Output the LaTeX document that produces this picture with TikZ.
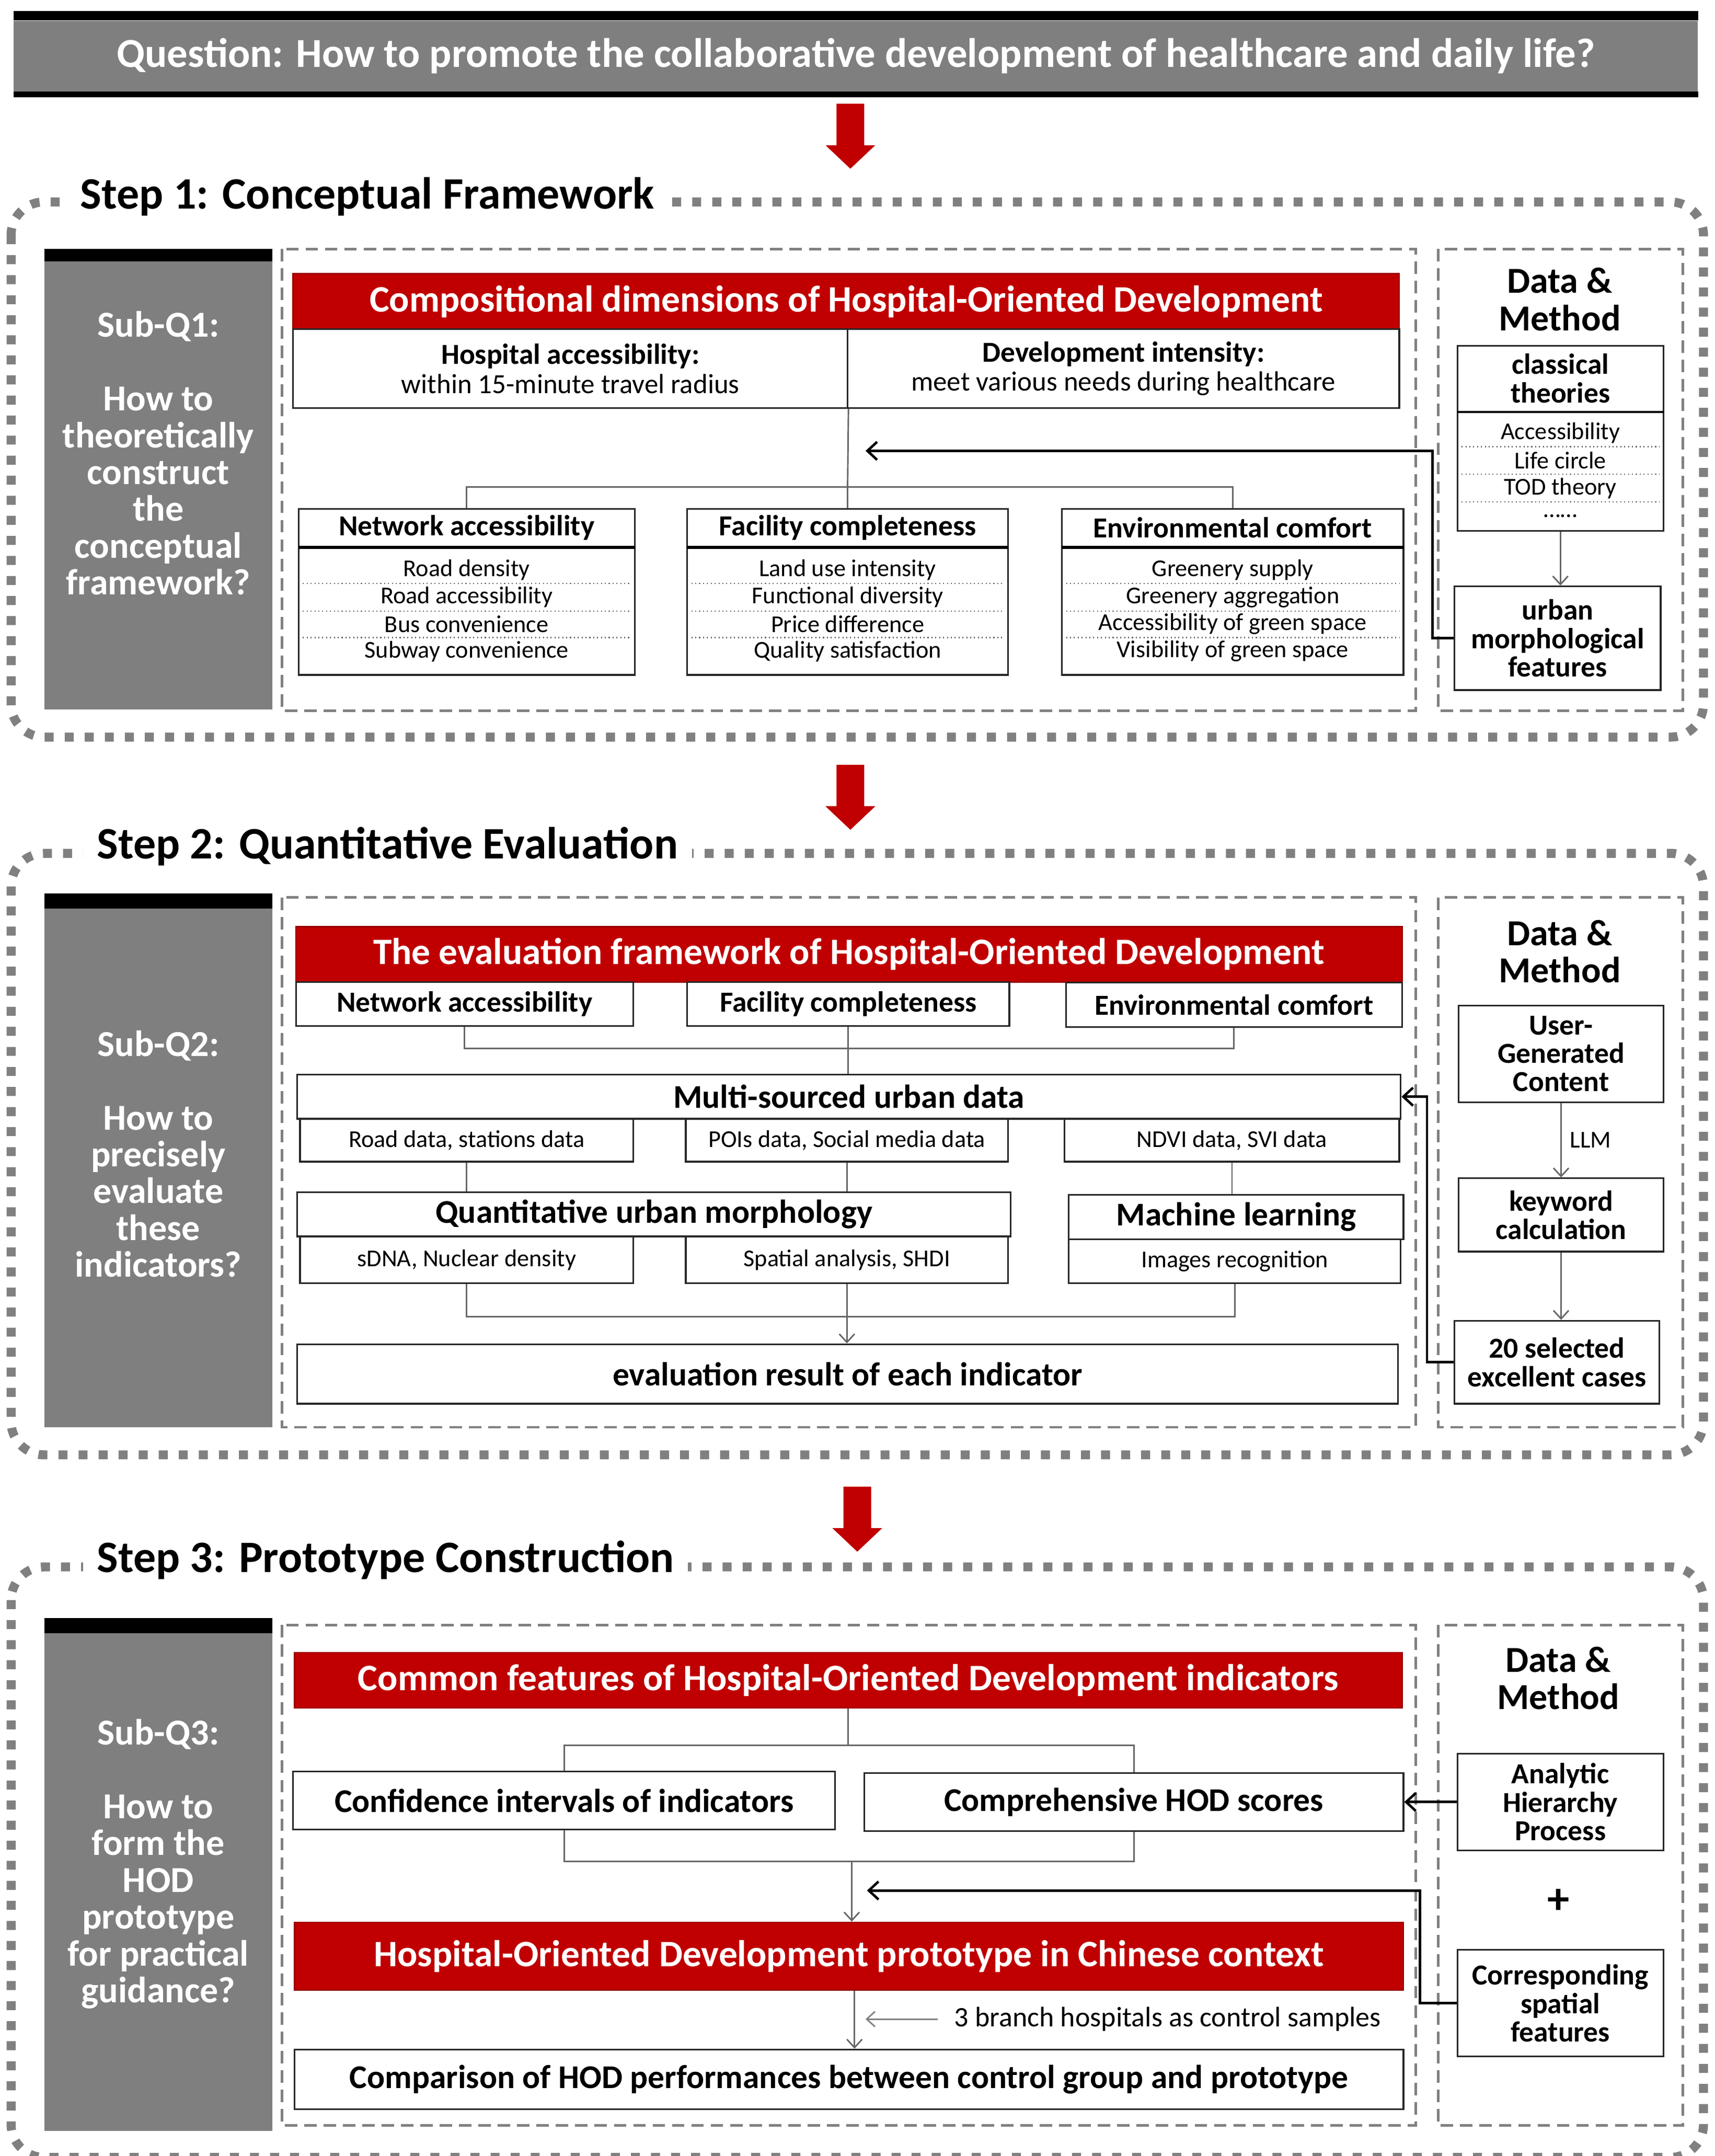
\documentclass[tikz,border=0pt]{standalone}
\usepackage{fontspec}
\setmainfont{Carlito}
\usetikzlibrary{arrows.meta,positioning}
\definecolor{hodred}{HTML}{C00000}
\definecolor{qgray}{HTML}{7F7F7F}
\definecolor{framegray}{HTML}{808080}
\definecolor{linkgray}{HTML}{666666}
\newcommand{\hodfs}[2]{\fontsize{#1}{#2}\selectfont}

\begin{document}
\begin{tikzpicture}[x=1pt,y=-1pt,
    outerbox/.style={draw=framegray,line width=6.5pt,dash pattern=on 6.5pt off 8pt,rounded corners=24pt},
    areabox/.style={draw=framegray,line width=1.8pt,dash pattern=on 9pt off 5pt},
    steptitle/.style={fill=white,inner xsep=10pt,inner ysep=2pt,font=\bfseries\hodfs{32.5}{36}},
    qtext/.style={text=white,align=center,inner sep=0pt,font=\bfseries\hodfs{26.5}{26.6}},
    dmtext/.style={align=center,inner sep=0pt,font=\bfseries\hodfs{26.5}{27}},
    redhead/.style={fill=hodred,draw=hodred!80!black,line width=1pt,text=white,inner sep=0pt,font=\bfseries\hodfs{27}{30}},
    box/.style={draw=black!85,line width=1.2pt,fill=white,inner sep=0pt,align=center},
    bbox/.style={box,font=\bfseries\hodfs{24}{27}},
    mbox/.style={box,font=\bfseries\hodfs{21}{20.5}},
    dbox/.style={box,font=\hodfs{17.5}{20}},
    hdr/.style={inner sep=0pt,align=center,font=\bfseries\hodfs{21}{21}},
    item/.style={inner sep=0pt,font=\hodfs{17.5}{20}},
    sep/.style={draw=black!60,line width=0.8pt,dotted},
    link/.style={draw=linkgray,line width=1.1pt},
    tip/.style={-{Straight Barb[length=6pt,width=11pt]}},
    feed/.style={draw=black,line width=1.8pt,-{Straight Barb[length=7pt,width=13pt]}}]

\useasboundingbox (0,0) rectangle (1240,1559);

% question banner
\node[fill=qgray,minimum width=1218,minimum height=51,inner sep=0pt,text=white,font=\bfseries\hodfs{29.8}{32}] (q) at (619,40.5) {Question: How to promote the collaborative development of healthcare and daily life?};
\fill (q.north west) rectangle ([yshift=7pt]q.north east);
\fill (q.south west) rectangle ([yshift=-4pt]q.south east);

\foreach \x/\y in {615/75,615/553,620/1075}
  \fill[hodred] ({\x-10},\y) -- ({\x+10},\y) -- ({\x+10},{\y+30}) -- ({\x+18},{\y+30}) -- (\x,{\y+47}) -- ({\x-18},{\y+30}) -- ({\x-10},{\y+30}) -- cycle;

% step 1
\draw[outerbox] (8,146) rectangle (1232,533);
\node[steptitle,anchor=west] (s1) at (48,142) {Step 1: Conceptual Framework};
\fill[black] (32,180) rectangle (197,189);
\fill[qgray] (32,189) rectangle (197,513);
\node[qtext,anchor=north] (q1) at (114.5,225) {Sub-Q1:\\[26.6pt]How to\\theoretically\\construct\\the\\conceptual\\framework?};
\draw[areabox] (204,180) rectangle (1024,514);
\draw[areabox] (1040,180) rectangle (1217,514);

\node[redhead,minimum width=800,minimum height=40] (cd) at (612,218) {Compositional dimensions of Hospital-Oriented Development};
\node[box,minimum width=401,minimum height=57,font=\hodfs{20}{21}] (ha) at (412.5,266.5) {{\bfseries\hodfs{21}{21}Hospital accessibility:}\\within 15-minute travel radius};
\node[box,minimum width=399,minimum height=57,font=\hodfs{20}{21}] (di) at (812.5,266.5) {{\bfseries\hodfs{21}{21}Development intensity:}\\meet various needs during healthcare};

\foreach \nm/\cx/\w/\hd in {na/337.5/243/Network accessibility,fc/613/232/Facility completeness,ec/891.5/247/Environmental comfort}{
  \node[box,minimum width=\w,minimum height=120] (\nm) at (\cx,428) {};
  \node[hdr,minimum width=\w,minimum height=28,anchor=north] (h\nm) at (\nm.north) {\hd};
  \draw[line width=2pt] (h\nm.south west) -- (h\nm.south east);
  \foreach \y in {422,442,461}
    \draw[sep] ({\cx-\w/2+3},\y) -- ({\cx+\w/2-3},\y);
}
\foreach \t [count=\i] in {Road density,Road accessibility,Bus convenience,Subway convenience}
  \node[item] (na\i) at (337.5,{392.5+19.6*\i}) {\t};
\foreach \t [count=\i] in {Land use intensity,Functional diversity,Price difference,Quality satisfaction}
  \node[item] (fc\i) at (613,{392.5+19.6*\i}) {\t};
\foreach \t [count=\i] in {Greenery supply,Greenery aggregation,Accessibility of green space,Visibility of green space}
  \node[item] (ec\i) at (891.5,{392.5+19.6*\i}) {\t};

\coordinate (j1) at (613,352);
\draw[link] (ha.south east) -- (j1);
\draw[link] (hna.north) |- (j1) -| (hec.north);
\draw[link] (j1) -- (hfc.north);

\node[dmtext] (dm1) at (1128,216.5) {Data \&\\Method};
\node[box,minimum width=149,minimum height=134] (ct) at (1128.5,317) {};
\node[hdr,minimum width=149,minimum height=48,anchor=north] (hct) at (ct.north) {classical\\theories};
\draw[line width=1.6pt] (hct.south west) -- (hct.south east);
\foreach \t [count=\i] in {Accessibility,Life circle,TOD theory}
  \node[item] (ct\i) at (1128.5,{293+20*\i}) {\t};
\node[item] (ct4) at (1128.5,373) {\ldots\ldots};
\foreach \y in {323,343,363}
  \draw[sep] (1057,\y) -- (1200,\y);
\node[mbox,minimum width=149,minimum height=75] (um) at (1126.5,461.5) {urban\\morphological\\features};
\draw[link,tip] (ct.south) -- (ct.south |- um.north);
\coordinate (k1) at (1036,326);
\coordinate (t1) at (626,326);
\draw[feed] (um.west) -| (k1) -- (t1);

% step 2
\draw[outerbox] (8,617) rectangle (1232,1052);
\node[steptitle,anchor=west] (s2) at (60,612) {Step 2: Quantitative Evaluation};
\fill[black] (32,646) rectangle (197,657);
\fill[qgray] (32,657) rectangle (197,1032);
\node[qtext,anchor=north] (q2) at (114.5,745) {Sub-Q2:\\[26.6pt]How to\\precisely\\evaluate\\these\\indicators?};
\draw[areabox] (204,649) rectangle (1024,1032);
\draw[areabox] (1040,649) rectangle (1217,1032);

\node[redhead,minimum width=800,minimum height=40] (ef) at (614,690) {The evaluation framework of Hospital-Oriented Development};
\node[mbox,minimum width=244,minimum height=32] (na2) at (336,726) {Network accessibility};
\node[mbox,minimum width=233,minimum height=32] (fc2) at (613.5,726) {Facility completeness};
\node[mbox,minimum width=243,minimum height=32] (ec2) at (892.5,726.5) {Environmental comfort};
\node[bbox,minimum width=798,minimum height=32] (ms) at (614,793) {Multi-sourced urban data};
\node[dbox,minimum width=241,minimum height=31] (rd) at (337.5,824.5) {Road data, stations data};
\node[dbox,minimum width=233,minimum height=31] (poi) at (612.5,824.5) {POIs data, Social media data};
\node[dbox,minimum width=242,minimum height=31] (ndvi) at (891,824.5) {NDVI data, SVI data};
\node[bbox,minimum width=516,minimum height=32] (qm) at (473,878) {Quantitative urban morphology};
\node[dbox,minimum width=241,minimum height=34] (sdna) at (337.5,911) {sDNA, Nuclear density};
\node[dbox,minimum width=233,minimum height=34] (sa) at (612.5,911) {Spatial analysis, SHDI};
\node[bbox,minimum width=242,minimum height=32] (ml) at (894,880) {Machine learning};
\node[dbox,minimum width=240,minimum height=32] (ir) at (893,912) {Images recognition};
\node[bbox,minimum width=796,minimum height=43] (er) at (613,993.5) {evaluation result of each indicator};

\coordinate (j2) at (613.5,758);
\draw[link] (na2.south) |- (j2) -| (ec2.south);
\draw[link] (fc2.south) -- (fc2.south |- ms.north);
\draw[link] (rd.south) -- (rd.south |- qm.north);
\draw[link] (poi.south) -- (poi.south |- qm.north);
\draw[link] (ndvi.south) -- (ndvi.south |- ml.north);
\coordinate (j2b) at (612.5,952);
\draw[link] (sdna.south) |- (j2b) -| (ir.south);
\draw[link,tip] (sa.south) -- (sa.south |- er.north);

\node[dmtext] (dm2) at (1128,688) {Data \&\\Method};
\node[mbox,minimum width=148,minimum height=70] (ugc) at (1129,762) {User-\\Generated\\Content};
\node[mbox,minimum width=148,minimum height=53] (kc) at (1129,878.5) {keyword\\calculation};
\node[mbox,minimum width=148,minimum height=60] (sel) at (1126,985) {20 selected\\excellent cases};
\draw[link,tip] (ugc.south) -- node[right=6pt,item] {LLM} (kc.north);
\draw[link,tip] (kc.south) -- (kc.south |- sel.north);
\coordinate (k2) at (1032,793);
\draw[feed] (sel.west) -| (k2) -- (ms.east);

% step 3
\draw[outerbox] (8,1133) rectangle (1232,1560);
\node[steptitle,anchor=west] (s3) at (60,1128) {Step 3: Prototype Construction};
\fill[black] (32,1170) rectangle (197,1181);
\fill[qgray] (32,1181) rectangle (197,1541);
\node[qtext,anchor=north] (q3) at (114.5,1243) {Sub-Q3:\\[26.6pt]How to\\form the\\HOD\\prototype\\for practical\\guidance?};
\draw[areabox] (204,1175) rectangle (1024,1537);
\draw[areabox] (1040,1175) rectangle (1217,1537);

\node[redhead,minimum width=801,minimum height=40] (cf) at (613.5,1215) {Common features of Hospital-Oriented Development indicators};
\node[bbox,minimum width=392,minimum height=42] (ci) at (408,1302) {Confidence intervals of indicators};
\node[bbox,minimum width=390,minimum height=42] (ch) at (820,1303) {Comprehensive HOD scores};
\node[redhead,minimum width=802,minimum height=49] (hp) at (614,1414.5) {Hospital-Oriented Development prototype in Chinese context};
\node[bbox,minimum width=802,minimum height=43] (cmp) at (614,1503.5) {Comparison of HOD performances between control group and prototype};

\coordinate (j3) at (613.5,1262);
\draw[link] (cf.south) -- (j3);
\draw[link] (ci.north) |- (j3) -| (ch.north);
\coordinate (j3b) at (616,1346);
\draw[link] (ci.south) |- (j3b) -| (ch.south);
\draw[link,tip] (j3b) -- (j3b |- hp.north);
\draw[link,tip] ([xshift=4pt]hp.south) -- ([xshift=4pt]cmp.north);
\node[inner sep=0pt,anchor=west,font=\hodfs{20.4}{22}] (cs) at (690,1460) {3 branch hospitals as control samples};
\coordinate (cs0) at (626,1460);
\draw[link,draw=gray,tip] ([xshift=-12pt]cs.west) -- (cs0);

\node[dmtext] (dm3) at (1127,1213.5) {Data \&\\Method};
\node[mbox,minimum width=149,minimum height=70] (ahp) at (1128.5,1303) {Analytic\\Hierarchy\\Process};
\node[inner sep=0pt,font=\bfseries\hodfs{32}{34}] (plus) at (1127,1375) {+};
\node[mbox,minimum width=149,minimum height=77] (csf) at (1128.5,1448.5) {Corresponding\\spatial\\features};
\draw[feed] (ahp.west) -- (ch.east);
\coordinate (k3) at (1027,1367);
\coordinate (t3) at (627,1367);
\draw[feed] (csf.west) -| (k3) -- (t3);
\end{tikzpicture}
\end{document}
